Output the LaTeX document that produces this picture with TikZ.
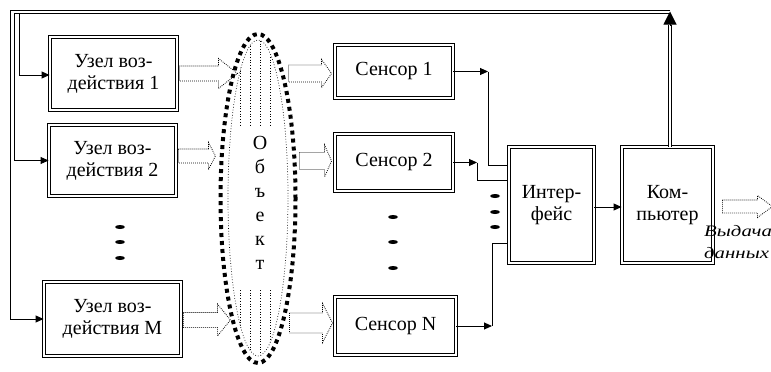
\documentclass[tikz,border=0pt]{standalone}
\usepackage{fontspec}
\setmainfont{Liberation Serif}
\newfontfamily\outfont[FakeStretch=1.3]{Liberation Serif}
\usetikzlibrary{arrows.meta,shapes.geometric,calc}
\newcommand\harrow[5]{\draw[holl] ($#1+(0,-#4)$) -- ++(#2,0) -- ++(0,{#4-#5}) -- ++(#3,#5) -- ++(-#3,#5) -- ++(0,{#4-#5}) -- ++(-#2,0) -- cycle;}
\begin{document}
\begin{tikzpicture}[x=1pt,y=-1pt,
 blk/.style={draw, line width=0.9pt, double, double distance=2pt, inner sep=0pt, align=center, font=\fontsize{20}{22}\selectfont},
 conn/.style={line width=0.9pt, -{Triangle[length=8pt,width=7pt]}},
 wire/.style={line width=0.9pt},
 holl/.style={line width=0.8pt, dash pattern=on 0.8pt off 1.2pt},
 dotline/.style={line width=0.7pt, dash pattern=on 0.7pt off 2pt},
 objell/.style={ellipse, draw, line width=4pt, dash pattern=on 4pt off 4pt, minimum width=75pt, minimum height=329pt, inner sep=0pt},
 blob/.style={fill=black}
]
\useasboundingbox (0,0) rectangle (771,372);

% boxes
\node[blk, minimum width=127pt, minimum height=73pt] (u1) at (113.5,73.5) {Узел воз-\\действия 1};
\node[blk, minimum width=127pt, minimum height=71pt] (u2) at (112.5,160.5) {Узел воз-\\действия 2};
\node[blk, minimum width=137pt, minimum height=74pt] (uM) at (112.5,319) {Узел воз-\\действия M};
\node[blk, minimum width=118pt, minimum height=53pt] (s1) at (394,71.5) {Сенсор 1};
\node[blk, minimum width=118pt, minimum height=57pt] (s2) at (394,162.5) {Сенсор 2};
\node[blk, minimum width=121pt, minimum height=58pt] (sN) at (395.5,326) {Сенсор N};
\node[blk, minimum width=85pt, minimum height=116pt] (if) at (551.5,205) {Интер-\\фейс};
\node[blk, minimum width=91pt, minimum height=116pt] (k) at (667.5,205) {Ком-\\пьютер};

% object
\node[objell] (obj) at (258,198.5) {};
\draw[dotline] (258,198) ellipse [x radius=30, y radius=158];
\begin{scope}
\clip (258,198) ellipse [x radius=30, y radius=158];
\foreach \xx in {240,250,260,270} {
  \draw[dotline] (\xx,30) -- (\xx,125);
  \draw[dotline] (\xx,290) -- (\xx,370);
}
\end{scope}
\node[align=center, font=\fontsize{20}{24}\selectfont, inner sep=0pt] (objt) at (260,203) {О\\б\\ъ\\е\\к\\т};

% hollow arrows
\harrow{([xshift=2pt]u1.east)}{39}{19}{7.5}{15}
\harrow{(u2.east)+(2,-4.5)}{30}{7}{7}{13.5}
\harrow{(uM.east)+(2,1)}{34}{13}{7.5}{16}
\harrow{(s1.west)+(-46,2)}{33}{10}{8.5}{14}
\harrow{(s2.west)+(-35,-1.5)}{25}{7}{8.5}{16}
\harrow{(sN.west)+(-45,-3)}{33}{10}{10}{19.5}
\harrow{(k.east)+(9,1.5)}{35}{15}{6.5}{11}

% bus lines
\coordinate (bt) at (670,10); \coordinate (bl) at (10,10);
\coordinate (bt2) at (670,13); \coordinate (bl2) at (14,13);
\coordinate (bl3) at (19,13);
\draw[conn] (bt) -- (bl) -- (bl |- uM.west) -- (uM.west);
\draw[conn] (bt2) -- (bl2) -- (bl2 |- u2.west) -- (u2.west);
\draw[conn] (bl3) -- (bl3 |- 0,75) -- (u1.west |- 0,75);
\coordinate (kt) at (670,11.5);
\draw[line width=0.9pt, double, double distance=1.6pt] (k.north -| kt) -- ($(kt)+(0,13)$);
\draw[line width=1pt, -{Triangle[length=13pt,width=13pt]}] ($(kt)+(0,14)$) -- (kt);

% sensor connections
\coordinate (j1) at (488,71.5); \coordinate (i1) at (507,165);
\coordinate (j2) at (477,162.5); \coordinate (i2) at (507,180);
\coordinate (j3) at (492,326); \coordinate (i3) at (507,243);
\draw[conn] (s1.east) -- (j1);
\draw[wire] (j1) -- (j1 |- i1) -- (i1);
\draw[conn] (s2.east) -- (j2);
\draw[wire] (j2) -- (j2 |- i2) -- (i2);
\draw[conn] (sN.east) -- (j3);
\draw[wire] (j3) -- (j3 |- i3) -- (i3);
\draw[conn] (if.east |- 0,207) -- (k.west |- 0,207);

% ellipsis dots
\foreach \yy in {227,242,258} \fill[blob] (120,\yy) ellipse [x radius=5, y radius=2];
\foreach \yy in {217,242,268} \fill[blob] (393,\yy) ellipse [x radius=5, y radius=2];
\foreach \yy in {196,212,227} \fill[blob] (495,\yy) ellipse [x radius=5, y radius=2];

% output label
\node[anchor=north west, align=left, inner sep=0pt, font=\outfont\itshape\fontsize{16}{22}\selectfont] (out) at (704,225) {Выдача\\данных};
\end{tikzpicture}
\end{document}
